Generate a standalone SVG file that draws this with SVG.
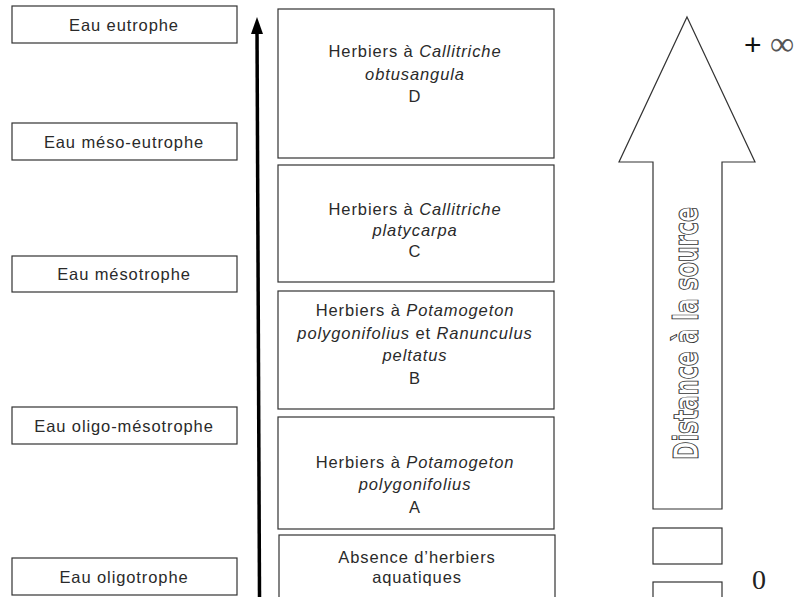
<svg xmlns="http://www.w3.org/2000/svg" width="808" height="597" viewBox="0 0 808 597">
<style>
.box{fill:#fff;stroke:#333;stroke-width:1.2}
.t{font-family:"Liberation Sans",Arial,sans-serif;font-size:16.5px;fill:#2a2a2a;text-anchor:middle;letter-spacing:0.9px}
.i{font-style:italic}
</style>
<rect width="808" height="597" fill="#fff"/>
<g id="eau-eutrophe"><rect class="box" x="12" y="6" width="225" height="37"/><text class="t" x="124" y="31">Eau eutrophe</text></g>
<g id="eau-meso-eutrophe"><rect class="box" x="12" y="123" width="225" height="37"/><text class="t" x="124" y="148">Eau méso-eutrophe</text></g>
<g id="eau-mesotrophe"><rect class="box" x="12" y="256" width="225" height="36"/><text class="t" x="124" y="280">Eau mésotrophe</text></g>
<g id="eau-oligo-mesotrophe"><rect class="box" x="12" y="407" width="225" height="37"/><text class="t" x="124" y="432">Eau oligo-mésotrophe</text></g>
<g id="eau-oligotrophe"><rect class="box" x="12" y="558" width="225" height="37"/><text class="t" x="124" y="583">Eau oligotrophe</text></g>
<g id="D"><rect class="box" x="278" y="9" width="276" height="149"/>
<text class="t" x="415" y="57">Herbiers à <tspan class="i">Callitriche</tspan></text>
<text class="t i" x="415" y="80">obtusangula</text>
<text class="t" x="415" y="102">D</text></g>
<g id="C"><rect class="box" x="278" y="165" width="276" height="117"/>
<text class="t" x="415" y="215">Herbiers à <tspan class="i">Callitriche</tspan></text>
<text class="t i" x="415" y="236">platycarpa</text>
<text class="t" x="415" y="257">C</text></g>
<g id="B"><rect class="box" x="278" y="291" width="276" height="118"/>
<text class="t" x="415" y="316">Herbiers à <tspan class="i">Potamogeton</tspan></text>
<text class="t" x="415" y="339"><tspan class="i">polygonifolius</tspan> et <tspan class="i">Ranunculus</tspan></text>
<text class="t i" x="415" y="361">peltatus</text>
<text class="t" x="415" y="384">B</text></g>
<g id="A"><rect class="box" x="278" y="417" width="276" height="112"/>
<text class="t" x="415" y="468">Herbiers à <tspan class="i">Potamogeton</tspan></text>
<text class="t i" x="415" y="490">polygonifolius</text>
<text class="t" x="415" y="513">A</text></g>
<g id="absence"><rect class="box" x="279" y="535" width="276" height="70"/>
<text class="t" x="417" y="563">Absence d’herbiers</text>
<text class="t" x="417" y="583">aquatiques</text></g>
<g id="distance">
<path d="M687 17 L755 162 L722 162 L722 509 L653 509 L653 162 L619 162 Z" fill="#fff" stroke="#333" stroke-width="1.2"/>
<text transform="translate(698 460) rotate(-90)" font-family="'DejaVu Sans Condensed','DejaVu Sans',sans-serif" font-weight="bold" font-size="34" fill="#fff" stroke="#333" stroke-width="1" textLength="253" lengthAdjust="spacingAndGlyphs">Distance à la source</text>
<rect class="box" x="653" y="528" width="69" height="36"/>
<rect class="box" x="653" y="582" width="69" height="30"/>
</g>
<g id="labels">
<text x="744" y="55" font-family="'Liberation Sans',Arial,sans-serif" font-size="30" fill="#111">+</text>
<text x="770" y="55" font-family="'Liberation Serif','Times New Roman',serif" font-size="34" fill="#555">∞</text>
<text x="752" y="589" font-family="'Liberation Serif','Times New Roman',serif" font-size="28" fill="#222">0</text>
</g>
<g id="connectors">
<path d="M257 28 L259.5 597" stroke="#000" stroke-width="3.5" fill="none"/>
<path d="M257 17 L251 34 L263 34 Z" fill="#000"/>
</g>
</svg>
